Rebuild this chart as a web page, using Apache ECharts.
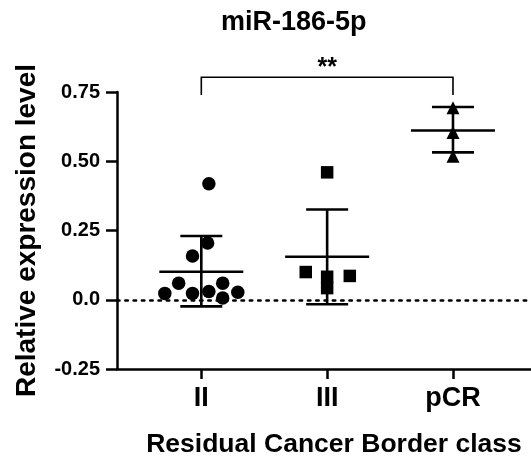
<!DOCTYPE html>
<html>
<head>
<meta charset="utf-8">
<script src="https://cdn.jsdelivr.net/npm/echarts@6/dist/echarts.min.js"></script>
<style>html,body{margin:0;padding:0;background:#fff;}#c{width:531px;height:463px;}</style>
</head>
<body>
<div id="c"></div>
<script>
// ---- data ----
const categories = ['II', 'III', 'pCR'];
const categoryPos = [1, 2, 3];
const yTicks = [-0.25, 0, 0.25, 0.5, 0.75];
// individual samples: [x position (jittered around category), value]
const groupII = [[1.06,0.419],[1.05,0.205],[0.93,0.158],[0.82,0.060],[0.71,0.023],[0.93,0.023],[1.06,0.030],[1.17,0.060],[1.17,0.006],[1.29,0.027]];
const groupIII = [[2.0,0.460],[1.83,0.100],[2.18,0.086],[2.0,0.083],[2.0,0.042]];
const groupPCR = [[3.0,0.693],[3.0,0.604],[3.0,0.518]];
const means = [0.101, 0.155, 0.611];
const sdHigh = [0.230, 0.326, 0.696];
const sdLow = [-0.024, -0.016, 0.532];
// significance bracket: from category, to category, bracket level, leg end, label
const bracketFrom = 1, bracketTo = 3, bracketTop = 0.803, bracketLeg = 0.739, bracketLabel = '**', bracketLabelY = 0.838;

const FONT = '"Liberation Sans", Arial, sans-serif';
const chart = echarts.init(document.getElementById('c'), null, {renderer: 'canvas'});

const errData = categoryPos.map((x, i) => [x, means[i], sdLow[i], sdHigh[i]]);

chart.setOption({
  animation: false,
  backgroundColor: '#fff',
  title: {
    text: 'miR-186-5p', left: 216, top: 4,
    textStyle: {fontFamily: FONT, fontWeight: 'bold', fontSize: 27, color: '#000'}
  },
  grid: {left: 117, top: 92, right: 0, bottom: 90.3, containLabel: false},
  xAxis: {
    type: 'value', min: 0.33, max: 3.62,
    splitLine: {show: false},
    axisLine: {show: true, onZero: false, lineStyle: {color: '#000', width: 2.5}},
    axisTick: {show: true, customValues: categoryPos, length: 10, lineStyle: {color: '#000', width: 2.5}},
    axisLabel: {
      customValues: categoryPos, margin: 16,
      formatter: v => categories[Math.round(v) - 1] || '',
      fontFamily: FONT, fontWeight: 'bold', fontSize: 27, color: '#000'
    },
    name: 'Residual Cancer Border class', nameLocation: 'middle', nameGap: 62,
    nameTextStyle: {fontFamily: FONT, fontWeight: 'bold', fontSize: 26.5, color: '#000', padding: [0, 0, 0, 20]}
  },
  yAxis: {
    type: 'value', min: -0.25, max: 0.75, interval: 0.25,
    splitLine: {show: false},
    axisLine: {show: true, lineStyle: {color: '#000', width: 2.5}},
    axisTick: {show: true, length: 11, lineStyle: {color: '#000', width: 2.5}},
    axisLabel: {
      margin: 17,
      formatter: v => (Math.abs(v) < 1e-9 ? '0.0' : v.toFixed(2)),
      fontFamily: FONT, fontWeight: 'bold', fontSize: 20, color: '#000'
    },
    name: 'Relative expression level', nameLocation: 'middle', nameGap: 76, nameRotate: 90,
    nameTextStyle: {fontFamily: FONT, fontWeight: 'bold', fontSize: 28, color: '#000'}
  },
  series: [
    {
      type: 'custom', name: 'meanSD', data: errData, z: 2,
      renderItem: (params, api) => {
        const x = api.value(0);
        const c = api.coord([x, api.value(1)]);
        const lo = api.coord([x, api.value(2)]);
        const hi = api.coord([x, api.value(3)]);
        const st = {stroke: '#000', lineWidth: 2.6};
        return {type: 'group', children: [
          {type: 'line', shape: {x1: c[0] - 42, y1: c[1], x2: c[0] + 42, y2: c[1]}, style: st},
          {type: 'line', shape: {x1: c[0], y1: hi[1], x2: c[0], y2: lo[1]}, style: st},
          {type: 'line', shape: {x1: c[0] - 21, y1: hi[1], x2: c[0] + 21, y2: hi[1]}, style: st},
          {type: 'line', shape: {x1: c[0] - 21, y1: lo[1], x2: c[0] + 21, y2: lo[1]}, style: st}
        ]};
      },
      markLine: {
        silent: true, symbol: 'none', label: {show: false},
        lineStyle: {color: '#000', type: [2.5, 5.8], width: 2.5, cap: 'round'},
        data: [{yAxis: 0}]
      }
    },
    {type: 'scatter', data: groupII, symbol: 'circle', symbolSize: 13.5, itemStyle: {color: '#000', opacity: 1}, z: 3},
    {type: 'scatter', data: groupIII, symbol: 'rect', symbolSize: 12.5, itemStyle: {color: '#000', opacity: 1}, z: 3},
    {type: 'scatter', data: groupPCR, symbol: 'triangle', symbolSize: 13, itemStyle: {color: '#000', opacity: 1}, z: 3},
    {
      type: 'custom', name: 'bracket', clip: false, z: 4,
      data: [[bracketFrom, bracketTo, bracketTop, bracketLeg]],
      renderItem: (params, api) => {
        const a = api.coord([api.value(0), api.value(3)]);
        const b = api.coord([api.value(0), api.value(2)]);
        const c = api.coord([api.value(1), api.value(2)]);
        const d = api.coord([api.value(1), api.value(3)]);
        const t = api.coord([(api.value(0) + api.value(1)) / 2, bracketLabelY]);
        return {type: 'group', children: [
          {type: 'polyline', shape: {points: [a, b, c, d]}, style: {stroke: '#000', lineWidth: 1.6, fill: null}},
          {type: 'text', x: t[0], y: t[1], style: {text: bracketLabel, font: 'bold 25px ' + FONT, fill: '#000', align: 'center', verticalAlign: 'middle'}}
        ]};
      }
    }
  ]
});
</script>
</body>
</html>
